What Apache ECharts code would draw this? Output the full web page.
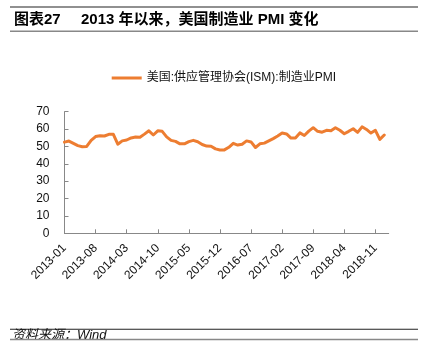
<!DOCTYPE html>
<html><head><meta charset="utf-8">
<script src="https://cdn.jsdelivr.net/npm/echarts@6/dist/echarts.min.js"></script>
<style>html,body{margin:0;padding:0;background:#fff}#c{width:423px;height:356px}</style>
</head><body><div id="c"></div>
<script>
// Month categories 2013-01 .. 2019-02 (axis runs one month past the last point)
const categories = [];
for (let y = 2013; y <= 2019; y++) {
  for (let m = 1; m <= 12; m++) {
    if (y === 2019 && m > 2) break;
    categories.push(y + '-' + String(m).padStart(2, '0'));
  }
}
const seriesName = '美国:供应管理协会(ISM):制造业PMI';
const pmiValues = [
  52.5, 53.1, 51.8, 50.5, 49.8, 50.0, 53.5, 55.7, 56.2, 56.0, 57.0, 57.0,
  51.3, 53.2, 53.7, 54.9, 55.4, 55.3, 57.1, 59.0, 56.6, 59.0, 58.7, 55.5,
  53.5, 52.9, 51.5, 51.5, 52.8, 53.5, 52.7, 51.1, 50.2, 50.1, 48.6, 48.0,
  48.0, 49.5, 51.8, 50.8, 51.3, 53.2, 52.6, 49.4, 51.5, 51.9, 53.2, 54.5,
  56.0, 57.7, 57.2, 54.8, 54.9, 57.8, 56.3, 58.8, 60.8, 58.7, 58.2, 59.3,
  59.1, 60.8, 59.3, 57.3, 58.7, 60.2, 58.1, 61.3, 59.8, 57.7, 59.3, 54.1,
  56.6
];
const yTicks = { min: 0, max: 70, interval: 10 };
const titleText = '2013 年以来，美国制造业 PMI 变化';
const titleLabel = '图表27';
const sourceText = '资料来源：Wind';

const FONT = '"Liberation Sans", "Noto Sans CJK SC", sans-serif';
const chart = echarts.init(document.getElementById('c'), null, { renderer: 'canvas' });
chart.setOption({
  animation: false,
  backgroundColor: '#fff',
  textStyle: { fontFamily: FONT },
  grid: { left: 64.5, right: 34.3, top: 111.7, bottom: 122.7, containLabel: false },
  legend: {
    data: [seriesName],
    left: 111.7, top: 72, padding: 0,
    icon: 'rect', itemWidth: 30, itemHeight: 3, itemGap: 5,
    textStyle: { fontFamily: FONT, fontSize: 12, color: '#111', padding: [0, 0, 0, 0] }
  },
  xAxis: {
    type: 'category',
    data: categories,
    boundaryGap: false,
    axisLine: { lineStyle: { color: '#888', width: 1 } },
    axisTick: { show: true, inside: true, length: 4, interval: 6, lineStyle: { color: '#888' } },
    axisLabel: { interval: 6, rotate: 45, fontSize: 12, color: '#111', margin: 13, fontFamily: FONT },
    splitLine: { show: false }
  },
  yAxis: {
    type: 'value',
    min: yTicks.min, max: yTicks.max, interval: yTicks.interval,
    axisLine: { show: true, lineStyle: { color: '#888', width: 1 } },
    axisTick: { show: true, inside: true, length: 4, lineStyle: { color: '#888' } },
    axisLabel: { fontSize: 12, color: '#111', margin: 15, fontFamily: FONT },
    splitLine: { show: false }
  },
  series: [{
    name: seriesName,
    type: 'line',
    data: pmiValues,
    showSymbol: false,
    symbol: 'none',
    lineStyle: { color: '#ED7D31', width: 3, join: 'round', cap: 'round' },
    itemStyle: { color: '#ED7D31' }
  }],
  graphic: [
    { type: 'rect', shape: { x: 10, y: 6.5, width: 408, height: 1 }, style: { fill: '#222' } },
    { type: 'text', left: 14, top: 12, style: { text: titleLabel, font: 'bold 15px ' + FONT, fill: '#000' } },
    { type: 'text', left: 81, top: 12, style: { text: titleText, font: 'bold 15px ' + FONT, fill: '#000' } },
    { type: 'rect', shape: { x: 10, y: 30.5, width: 408, height: 1.5 }, style: { fill: '#888' } },
    { type: 'rect', shape: { x: 10, y: 328.8, width: 408, height: 1 }, style: { fill: '#222' } },
    { type: 'text', left: 12, top: 328.5, style: { text: sourceText, font: 'italic 13px ' + FONT, fill: '#111' } },
    { type: 'rect', shape: { x: 10, y: 338.8, width: 408, height: 1.5 }, style: { fill: '#888' } }
  ]
});
</script></body></html>
